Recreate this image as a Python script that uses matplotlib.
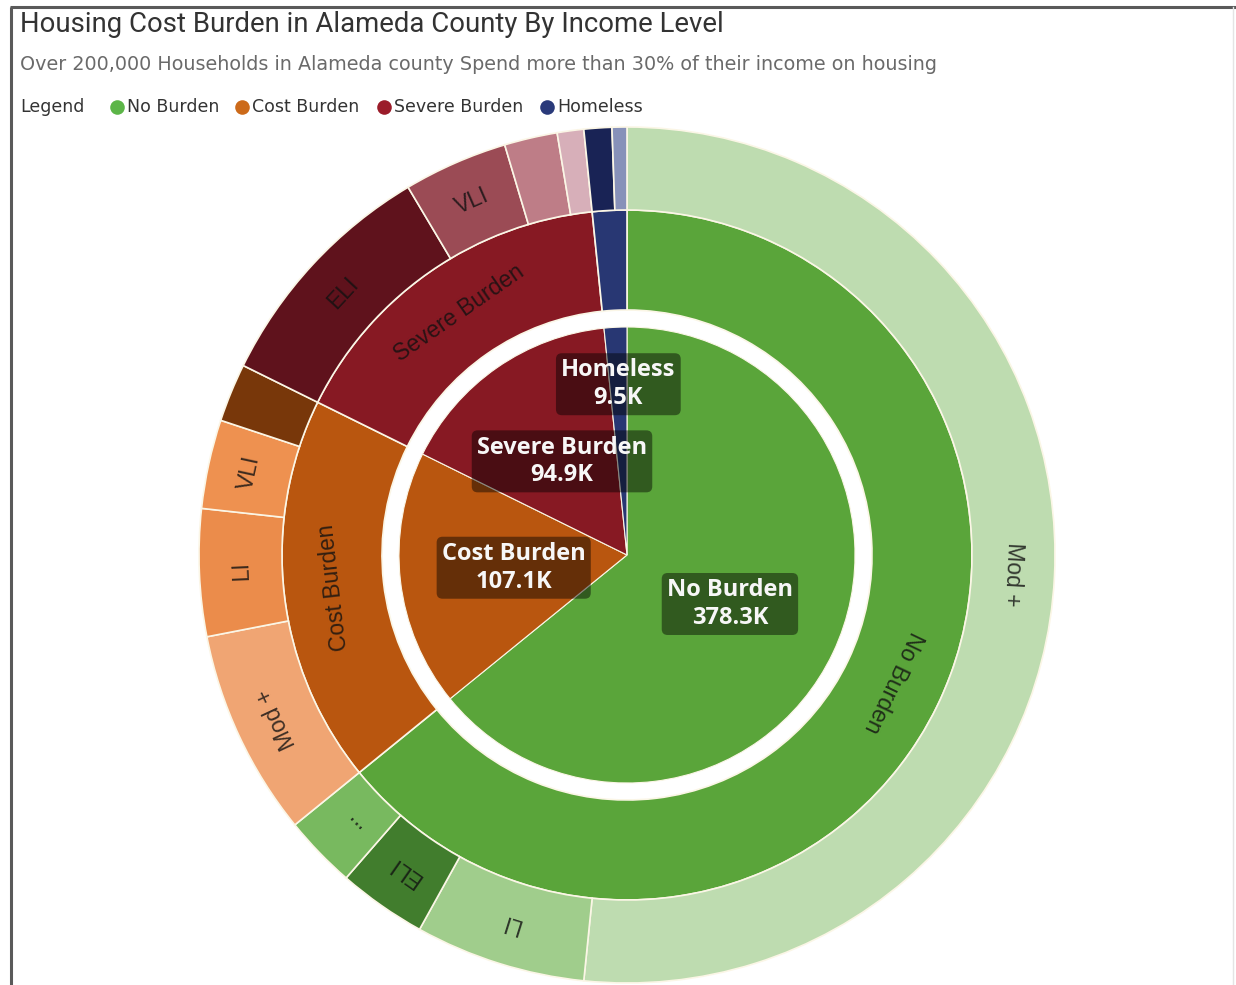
import matplotlib.pyplot as plt
import numpy as np

# Households (thousands) by burden level
levels = ["No Burden", "Cost Burden", "Severe Burden", "Homeless"]
level_values = [378.3, 107.1, 94.9, 9.5]
level_colors = ["#5aa53a", "#b9560f", "#871923", "#283773"]
legend_colors = ["#5cb548", "#cc6a1a", "#9b1c2a", "#2a3a7a"]

# Income level split inside each burden level (thousands)
nb_income = ["Mod +", "LI", "ELI", "VLI"]
nb_values = [304.4, 38.0, 19.7, 16.2]
nb_colors = ["#bedcb0", "#a0cd8c", "#417d2d", "#78b95f"]

cb_income = ["Mod +", "LI", "VLI", "ELI"]
cb_values = [46.0, 28.3, 19.8, 13.0]
cb_colors = ["#f0a573", "#eb8c4b", "#ee9150", "#78370a"]

sb_income = ["ELI", "VLI", "LI", "Mod +"]
sb_values = [54.0, 23.2, 11.8, 5.9]
sb_colors = ["#5f121c", "#9b4b55", "#be7d87", "#d7afb9"]

hl_income = ["ELI", "VLI"]
hl_values = [6.2, 3.3]
hl_colors = ["#192355", "#8791b9"]

title = "Housing Cost Burden in Alameda County By Income Level"
subtitle = "Over 200,000 Households in Alameda county Spend more than 30% of their income on housing"

W, H = 1236, 985
CX, CY = 627, H - 555
R_OUT, R_MID, R_GAP, R_IN = 428, 345, 245, 228
edge = "#fbf6e6"

fig = plt.figure(figsize=(W / 100, H / 100), dpi=100)
ax = fig.add_axes([0, 0, 1, 1])

common = dict(center=(CX, CY), startangle=90, counterclock=False, frame=True)

inner, _ = ax.pie(level_values, radius=R_IN, colors=level_colors,
                  wedgeprops=dict(edgecolor=edge, linewidth=0.8), **common)
middle, _ = ax.pie(level_values, radius=R_MID, colors=level_colors,
                   wedgeprops=dict(width=R_MID - R_GAP, edgecolor=edge, linewidth=1.2),
                   **common)

outer_labels = nb_income + cb_income + sb_income + hl_income
outer_values = nb_values + cb_values + sb_values + hl_values
outer_colors = nb_colors + cb_colors + sb_colors + hl_colors
outer, _ = ax.pie(outer_values, radius=R_OUT, colors=outer_colors,
                  wedgeprops=dict(width=R_OUT - R_MID, edgecolor=edge, linewidth=1.2),
                  **common)


def ring_label(wedge, text, r):
    mid = np.deg2rad((wedge.theta1 + wedge.theta2) / 2)
    rot = np.rad2deg(mid) - 90
    ax.text(CX + r * np.cos(mid), CY + r * np.sin(mid), text,
            rotation=rot, rotation_mode="anchor", ha="center", va="center",
            fontsize=16.5, family="Liberation Sans", color="#111111", alpha=0.8)


# income labels on the outer ring: full name, "..." when tight, nothing when tiny
for w, lab in zip(outer, outer_labels):
    span = w.theta2 - w.theta1
    if span >= 11:
        ring_label(w, lab, (R_OUT + R_MID) / 2)
    elif span >= 9:
        ring_label(w, "...", (R_OUT + R_MID) / 2)

for w, lab in zip(middle, levels):
    if w.theta2 - w.theta1 >= 20:
        ring_label(w, lab, (R_MID + R_GAP) / 2)

# data labels in the centre pie
for w, lab, val in zip(inner, levels, level_values):
    mid = np.deg2rad((w.theta1 + w.theta2) / 2)
    r = R_IN * (0.75 if val < 20 else 0.5)
    ax.text(CX + r * np.cos(mid), CY + r * np.sin(mid), f"{lab}\n{val:.1f}K",
            ha="center", va="center", multialignment="center", linespacing=1.2,
            fontsize=17, fontweight="bold", family="Open Sans", color="#f7f7f7",
            bbox=dict(boxstyle="round,pad=0.22,rounding_size=0.25",
                      fc="black", ec="none", alpha=0.45))

# header
ax.text(20, H - 25, title, fontsize=19.8, family="Roboto", color="#333333", va="center")
ax.text(20, H - 64, subtitle, fontsize=13.8, family="DejaVu Sans",
        color="#6a6a6a", va="center")
ax.text(20, H - 107, "Legend", fontsize=12.5, family="DejaVu Sans", color="#333333",
        va="center")
legend_x = [117, 242, 384, 547]
for x, lab, c in zip(legend_x, levels, legend_colors):
    ax.plot(x, H - 107, "o", ms=10.5, color=c, mec="none")
    ax.text(x + 10, H - 107, lab, fontsize=12.5, family="DejaVu Sans",
            color="#333333", va="center")

# card border
ax.plot([10, W], [H - 7, H - 7], color="#5a5a5a", lw=2.2, solid_capstyle="butt")
ax.plot([11, 11], [0, H - 7], color="#5a5a5a", lw=2.2, solid_capstyle="butt")
ax.plot([W - 3, W - 3], [0, H - 7], color="#e4e4e4", lw=1)

ax.set_xlim(0, W)
ax.set_ylim(0, H)
ax.axis("off")

fig.savefig("out.png", dpi=100)
